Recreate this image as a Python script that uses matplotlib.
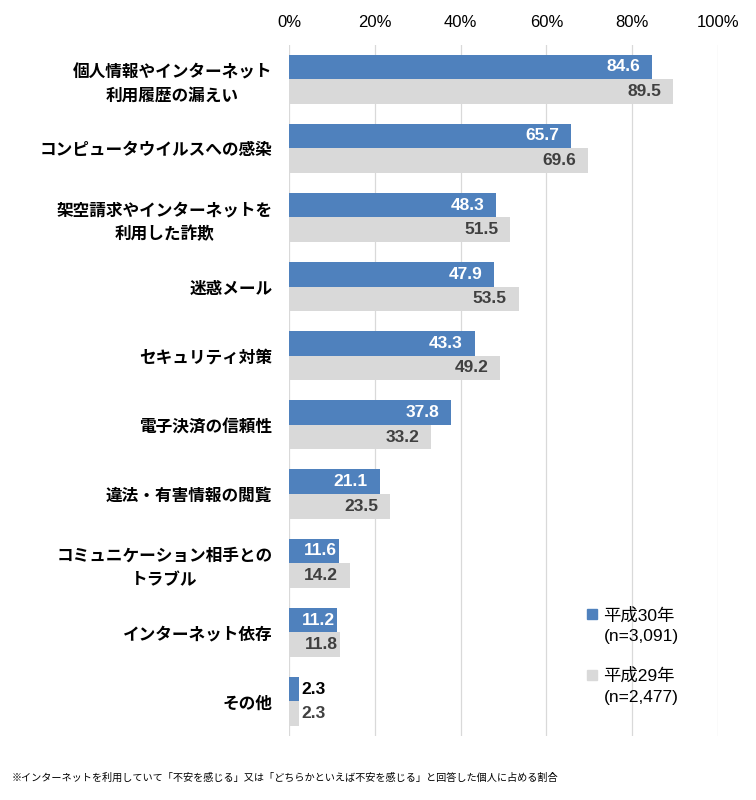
import matplotlib
matplotlib.use("Agg")
import matplotlib.pyplot as plt
from matplotlib.lines import Line2D
import numpy as np

categories = [
    "個人情報やインターネット\n利用履歴の漏えい",
    "コンピュータウイルスへの感染",
    "架空請求やインターネットを\n利用した詐欺",
    "迷惑メール",
    "セキュリティ対策",
    "電子決済の信頼性",
    "違法・有害情報の閲覧",
    "コミュニケーション相手との\nトラブル",
    "インターネット依存",
    "その他",
]
h30 = [84.6, 65.7, 48.3, 47.9, 43.3, 37.8, 21.1, 11.6, 11.2, 2.3]
h29 = [89.5, 69.6, 51.5, 53.5, 49.2, 33.2, 23.5, 14.2, 11.8, 2.3]
series_labels = ["平成30年", "平成29年"]
series_n = ["(n=3,091)", "(n=2,477)"]
xticks = [0, 20, 40, 60, 80, 100]
footnote = "※インターネットを利用していて「不安を感じる」又は「どちらかといえば不安を感じる」と回答した個人に占める割合"

BLUE = "#4F81BD"
GRAY = "#D9D9D9"
GRID = "#D9D9D9"
DARK = "#404040"

LATIN = ["Liberation Sans", "Noto Sans CJK JP", "DejaVu Sans"]
CJK = ["Noto Sans CJK JP", "DejaVu Sans"]

fig = plt.figure(figsize=(7.56, 8.0), dpi=100)
ax = fig.add_axes([289 / 756, 1 - 736 / 800, (718 - 289) / 756, (736 - 44.5) / 800])

y = np.arange(len(categories))
bh = 0.355
b1 = ax.barh(y - bh / 2, h30, height=bh, color=BLUE, zorder=3)
b2 = ax.barh(y + bh / 2, h29, height=bh, color=GRAY, zorder=3)

ax.set_xlim(0, 100)
ax.set_ylim(len(categories) - 0.5, -0.5)
ax.set_xticks(xticks)
ax.set_xticklabels([f"{t}%" for t in xticks], family=LATIN, fontsize=12)
ax.xaxis.tick_top()
ax.tick_params(axis="x", length=0, pad=10.5)
ax.set_yticks(y)
ax.set_yticklabels(categories, family=CJK, fontsize=12, fontweight="bold",
                   multialignment="center", linespacing=1.4)
ax.tick_params(axis="y", length=0, pad=12)
for lbl in ax.get_yticklabels():
    lbl.set_y(lbl.get_position()[1])
for s in ax.spines.values():
    s.set_visible(False)
ax.grid(axis="x", color=GRID, linewidth=0.9, zorder=0)
ax.set_axisbelow(True)


def label_bars(vals, offs, inside_color, outside_color):
    for v, yy in zip(vals, offs):
        if v < 5:
            ax.annotate(f"{v:.1f}", (v, yy), xytext=(2, 0), textcoords="offset points",
                        ha="left", va="center", color=outside_color, fontsize=12.5,
                        fontweight="bold", family=LATIN, zorder=4)
        else:
            dx = -1.5 if v < 13 else -8.5
            ax.annotate(f"{v:.1f}", (v, yy), xytext=(dx, 0), textcoords="offset points",
                        ha="right", va="center", color=inside_color, fontsize=12.5,
                        fontweight="bold", family=LATIN, zorder=4)


label_bars(h30, y - bh / 2, "white", "black")
label_bars(h29, y + bh / 2, DARK, DARK)

# legends
anchors = [(587 / 756, 1 - 607 / 800), (587 / 756, 1 - 668 / 800)]
colors = [BLUE, GRAY]
legs = []
for lab, n, col, anc in zip(series_labels, series_n, colors, anchors):
    handles = [Line2D([], [], marker="s", linestyle="none", markersize=6.5,
                      markerfacecolor=col, markeredgecolor=col),
               Line2D([], [], linestyle="none")]
    leg = fig.legend(handles, [lab, n], loc="upper left", bbox_to_anchor=anc,
                     bbox_transform=fig.transFigure, frameon=False,
                     prop={"family": LATIN, "size": 12.5},
                     handlelength=0.6, handletextpad=0.35, labelspacing=0.3,
                     borderpad=0, borderaxespad=0)
    legs.append(leg)

fig.text(12 / 756, 1 - 778 / 800, footnote, family=CJK, fontsize=7.3,
         ha="left", va="center")

fig.savefig("out.png", dpi=100)
